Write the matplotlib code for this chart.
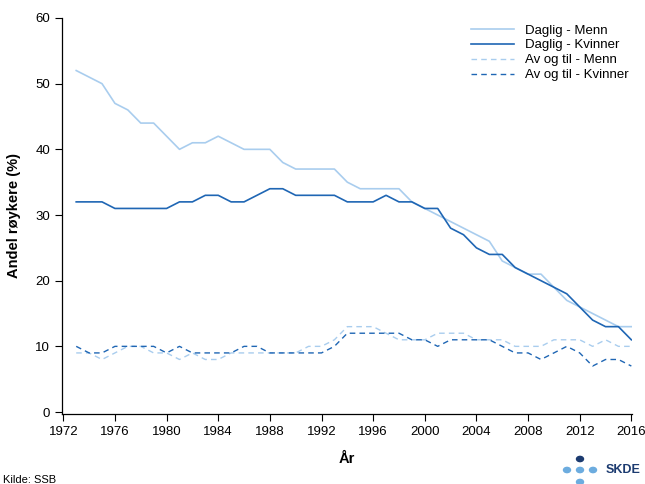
#!/usr/bin/env python3
"""Andel røykere (daglig / av og til) etter kjønn, 1973-2016."""
import matplotlib
matplotlib.use("Agg")
import matplotlib.pyplot as plt          # noqa: E402
from matplotlib.patches import Circle    # noqa: E402

plt.rcParams["font.family"] = ["Liberation Sans", "DejaVu Sans"]

years = list(range(1973, 2017))
daglig_menn = [52, 51, 50, 47, 46, 44, 44, 42, 40, 41, 41, 42, 41, 40, 40, 40,
               38, 37, 37, 37, 37, 35, 34, 34, 34, 34, 32, 31, 30, 29, 28, 27,
               26, 23, 22, 21, 21, 19, 17, 16, 15, 14, 13, 13]
daglig_kvinner = [32, 32, 32, 31, 31, 31, 31, 31, 32, 32, 33, 33, 32, 32, 33, 34,
                  34, 33, 33, 33, 33, 32, 32, 32, 33, 32, 32, 31, 31, 28, 27, 25,
                  24, 24, 22, 21, 20, 19, 18, 16, 14, 13, 13, 11]
avogtil_menn = [9, 9, 8, 9, 10, 10, 9, 9, 8, 9, 8, 8, 9, 9, 9, 9,
                9, 9, 10, 10, 11, 13, 13, 13, 12, 11, 11, 11, 12, 12, 12, 11,
                11, 11, 10, 10, 10, 11, 11, 11, 10, 11, 10, 10]
avogtil_kvinner = [10, 9, 9, 10, 10, 10, 10, 9, 10, 9, 9, 9, 9, 10, 10, 9,
                   9, 9, 9, 9, 10, 12, 12, 12, 12, 12, 11, 11, 10, 11, 11, 11,
                   11, 10, 9, 9, 8, 9, 10, 9, 7, 8, 8, 7]
series_labels = ["Daglig - Menn", "Daglig - Kvinner",
                 "Av og til - Menn", "Av og til - Kvinner"]
xticks = list(range(1972, 2017, 4))
yticks = list(range(0, 61, 10))

LIGHT = "#a9cdee"
DARK = "#1f66b4"
NAVY = "#1c3b70"
DOT = "#6cacdf"

fig = plt.figure(figsize=(6.45, 4.84), dpi=100)
ax = fig.add_axes([62 / 645, 70 / 484, 570 / 645, 396 / 484])

ax.plot(years, daglig_menn, color=LIGHT, lw=1.2, label=series_labels[0])
ax.plot(years, daglig_kvinner, color=DARK, lw=1.2, label=series_labels[1])
ax.plot(years, avogtil_menn, color=LIGHT, lw=1.0, ls=(0, (4, 3)), label=series_labels[2])
ax.plot(years, avogtil_kvinner, color=DARK, lw=1.0, ls=(0, (4, 3)), label=series_labels[3])

ax.set_xlim(1971.9, 2016.05)
ax.set_ylim(-0.3, 60)
ax.set_xticks(xticks)
ax.set_yticks(yticks)
ax.tick_params(direction="out", length=5, width=0.8, labelsize=9.5, colors="black")
for s in ("top", "right"):
    ax.spines[s].set_visible(False)
for s in ("left", "bottom"):
    ax.spines[s].set_linewidth(0.9)

ax.set_xlabel("År", fontsize=10.5, fontweight="bold", labelpad=10)
ax.set_ylabel("Andel røykere (%)", fontsize=10.5, fontweight="bold", labelpad=10)

ax.legend(loc="upper right", frameon=False, fontsize=9.5, handlelength=3.3,
          labelspacing=0.2, borderaxespad=0.2, bbox_to_anchor=(1.008, 1.004))

fig.text(3 / 645, 1 / 484, "Kilde: SSB", fontsize=8, ha="left", va="baseline")

# SKDE logo
dots = [(580, 459, NAVY), (567, 470, DOT), (580, 470, DOT), (593, 470, DOT), (580, 482, DOT)]
for px, py, c in dots:
    fig.patches.append(Circle((px / 645, 1 - py / 484), 3.5 / 645, color=c,
                              transform=fig.transFigure, figure=fig))
fig.text(606 / 645, 1 - 470 / 484, "SKDE", fontsize=9, fontweight="bold",
         color=NAVY, ha="left", va="center")

fig.savefig("out.png", dpi=100)
